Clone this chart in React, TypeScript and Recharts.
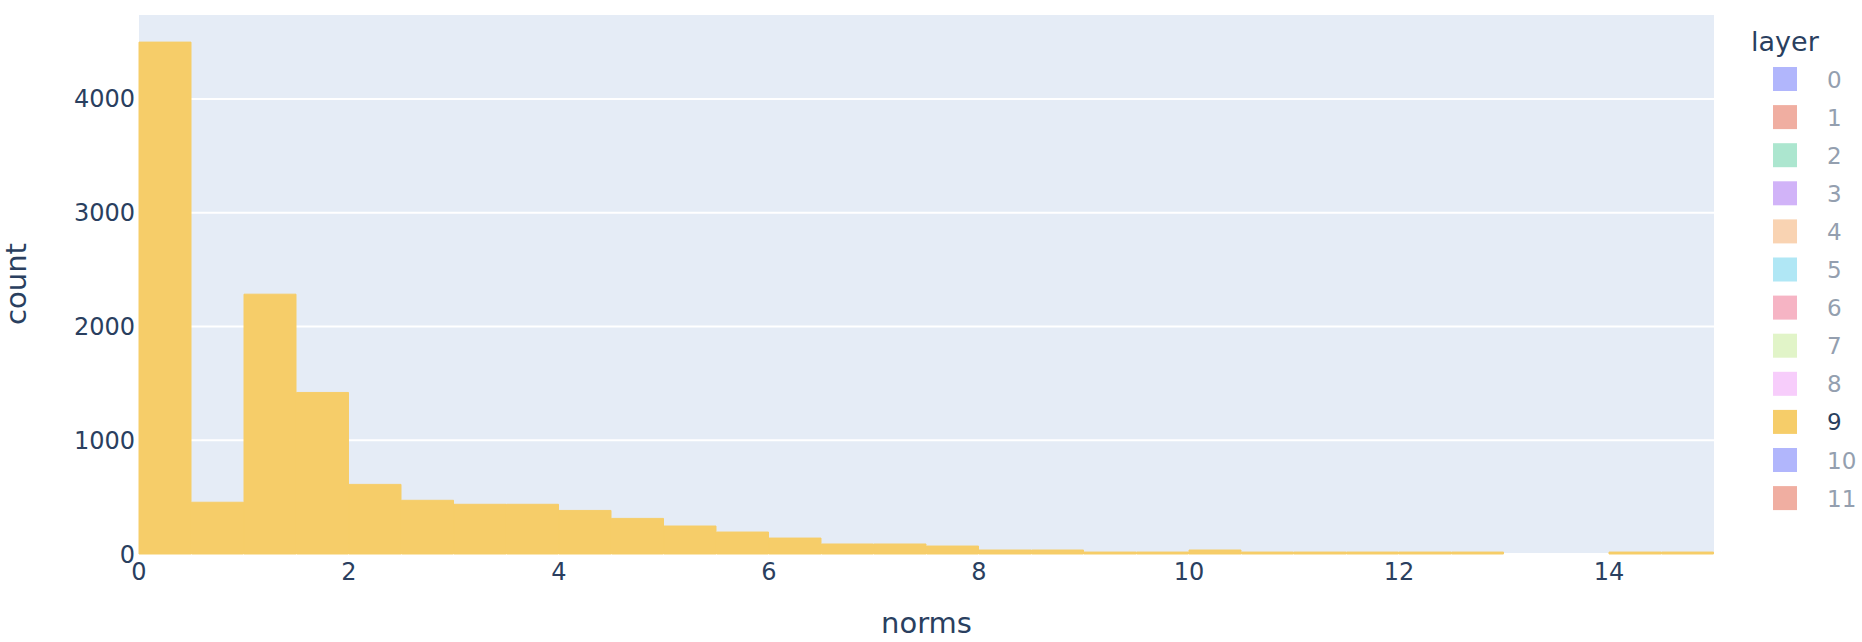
import { BarChart, Bar, XAxis, YAxis, CartesianGrid, Legend, Label } from 'recharts';

// histogram of norms for layer 9, bins of width 0.5 from 0 to 15
const binStarts = [
  0, 0.5, 1, 1.5, 2, 2.5, 3, 3.5, 4, 4.5, 5, 5.5, 6, 6.5, 7,
  7.5, 8, 8.5, 9, 9.5, 10, 10.5, 11, 11.5, 12, 12.5, 13, 13.5, 14, 14.5,
];
const counts = [
  4500, 455, 2284, 1420, 612, 472, 437, 437, 383, 313, 246, 193, 140, 88, 88,
  70, 35, 35, 17, 17, 35, 17, 17, 17, 17, 17, 0, 0, 17, 17,
];
const binWidth = 0.5;

const xTicks = [0, 2, 4, 6, 8, 10, 12, 14];
const yTicks = [0, 1000, 2000, 3000, 4000];

const layers = ['0', '1', '2', '3', '4', '5', '6', '7', '8', '9', '10', '11'];
const layerColors = [
  '#B1B6FC', '#F0AEA1', '#ACE6CF', '#D1B3F8', '#F9D3B2',
  '#B0E7F5', '#F6B4C4', '#E1F4C8', '#F7CDFB', '#F6CD69', '#B1B6FC', '#F0AEA1',
];
const activeLayer = '9';

const data = binStarts.map((s, i) => ({ mid: s + binWidth / 2, count: counts[i] }));

const FONT = '"DejaVu Sans", Verdana, sans-serif';
const INK = '#2a3f5f';
const FADED = '#949FAF';
const BAR = '#F6CD69';

function LayerLegend() {
  return (
    <svg width={132} height={530} style={{ display: 'block' }}>
      <text x={21} y={51} fontSize={27} fill={INK} fontFamily={FONT}>
        layer
      </text>
      {layers.map((l, i) => {
        const y = 67 + i * 38.1;
        const on = l === activeLayer;
        return (
          <g key={l}>
            <rect x={43} y={y} width={24} height={24} fill={layerColors[i]} />
            <text x={97} y={y + 20.5} fontSize={23} fill={on ? INK : FADED} fontFamily={FONT}>
              {l}
            </text>
          </g>
        );
      })}
    </svg>
  );
}

function YTitle(props: any) {
  const vb = props.viewBox;
  const x = vb.x + 26;
  const y = vb.y + vb.height / 2;
  return (
    <text x={x} y={y} transform={`rotate(-90 ${x} ${y})`} textAnchor="middle" fontSize={29} fill={INK} fontFamily={FONT}>
      count
    </text>
  );
}

function XTitle(props: any) {
  const vb = props.viewBox;
  return (
    <text x={vb.x + vb.width / 2} y={vb.y + 79} textAnchor="middle" fontSize={29} fill={INK} fontFamily={FONT}>
      norms
    </text>
  );
}

export default function App() {
  return (
    <div style={{ width: 1862, height: 642, background: '#fff', fontFamily: FONT }}>
      <style>{'body{margin:0}'}</style>
      <BarChart
        width={1862}
        height={642}
        data={data}
        margin={{ top: 14, right: 148, bottom: 0, left: 0 }}
        barCategoryGap={0}
        barGap={0}
      >
        <CartesianGrid vertical={false} stroke="#ffffff" strokeWidth={2} fill="#E5ECF6" />
        <XAxis
          type="number"
          dataKey="mid"
          domain={[0, 15]}
          ticks={xTicks}
          axisLine={false}
          tickLine={false}
          tickSize={0}
          tickMargin={9}
          height={88}
          interval={0}
          tick={{ fontSize: 24, fill: INK, fontFamily: FONT }}
        >
          <Label content={<XTitle />} />
        </XAxis>
        <YAxis
          type="number"
          domain={[0, 4747]}
          ticks={yTicks}
          axisLine={false}
          tickLine={false}
          tickSize={0}
          tickMargin={4}
          width={139}
          interval={0}
          tick={{ fontSize: 24, fill: INK, fontFamily: FONT }}
        >
          <Label content={<YTitle />} />
        </YAxis>
        <Legend
          layout="vertical"
          align="center"
          verticalAlign="middle"
          content={<LayerLegend />}
          wrapperStyle={{ left: 1730, top: 0, width: 132, height: 530 }}
        />
        <Bar dataKey="count" name="9" fill={BAR} stroke={BAR} strokeWidth={1} isAnimationActive={false} />
      </BarChart>
    </div>
  );
}
